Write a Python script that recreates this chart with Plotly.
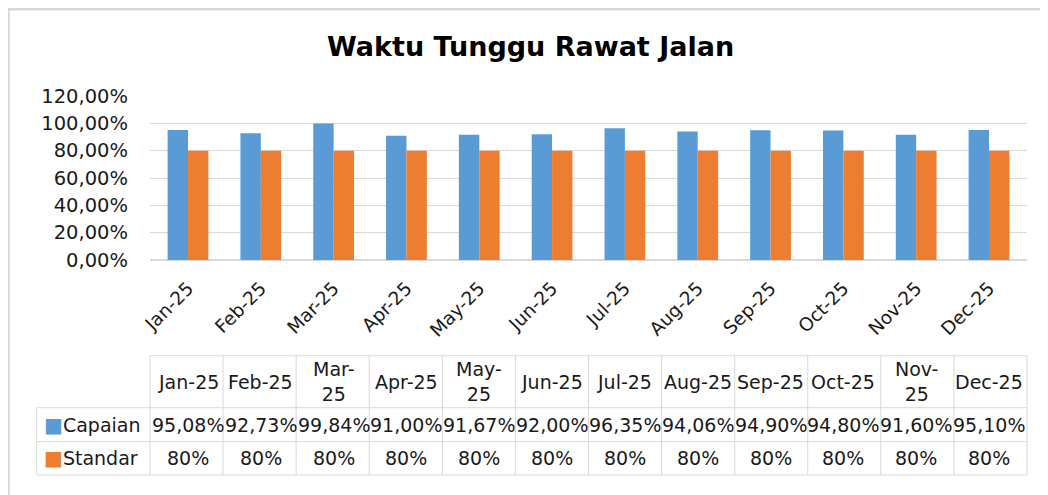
import plotly.graph_objects as go

# ---- data ----
months = ["Jan-25", "Feb-25", "Mar-25", "Apr-25", "May-25", "Jun-25",
          "Jul-25", "Aug-25", "Sep-25", "Oct-25", "Nov-25", "Dec-25"]
header_labels = ["Jan-25", "Feb-25", "Mar-<br>25", "Apr-25", "May-<br>25", "Jun-25",
                 "Jul-25", "Aug-25", "Sep-25", "Oct-25", "Nov-<br>25", "Dec-25"]
capaian = [95.08, 92.73, 99.84, 91.00, 91.67, 92.00, 96.35, 94.06, 94.90, 94.80, 91.60, 95.10]
standar = [80, 80, 80, 80, 80, 80, 80, 80, 80, 80, 80, 80]
series_names = ["Capaian", "Standar"]
title_text = "Waktu Tunggu Rawat Jalan"

BLUE = "#5B9BD5"
ORANGE = "#ED7D31"
GRID = "#D9D9D9"
TXT = "#1a1a1a"
FONT = "DejaVu Sans"

OFF = 8                      # page offset of the figure (body margin)
W, H = 1048 - OFF, 495 - OFF
L, R, T, B = 150, 1027, 96, 260  # plot area in page pixels
PW, PH = R - L, B - T


def px2x(px):
    return (px - L) / PW


def py2y(py):
    return (B - py) / PH


fig = go.Figure()
fig.add_trace(go.Bar(x=months, y=[v / 100 for v in capaian], name=series_names[0],
                     marker=dict(color=BLUE, line=dict(width=0))))
fig.add_trace(go.Bar(x=months, y=[v / 100 for v in standar], name=series_names[1],
                     marker=dict(color=ORANGE, line=dict(width=0))))

shapes = []
annotations = []

# frame (top and left edges of chart area)
shapes.append(dict(type="line", xref="paper", yref="paper", x0=px2x(OFF), x1=px2x(1060),
                   y0=py2y(OFF + 1.2), y1=py2y(OFF + 1.2), line=dict(color=GRID, width=2.5)))
shapes.append(dict(type="line", xref="paper", yref="paper", x0=px2x(OFF + 0.6), x1=px2x(OFF + 0.6),
                   y0=py2y(OFF), y1=py2y(510), line=dict(color=GRID, width=2.5)))

# title
annotations.append(dict(text="<b>" + title_text + "</b>", xref="paper", yref="paper",
                        x=px2x(530), y=py2y(47), xanchor="center", yanchor="middle",
                        showarrow=False, font=dict(family=FONT, size=27, color="#000000")))

# ---- data table ----
n = len(months)
row_y = [355.7, 407.7, 441.7, 475.0]
label_left = 36.7
col_edges = [i / n for i in range(n + 1)]  # category edges in paper units (range -0.5..n-0.5)
lw = dict(color=GRID, width=1)
# horizontal lines
shapes.append(dict(type="line", xref="paper", yref="paper", x0=0, x1=1,
                   y0=py2y(row_y[0]), y1=py2y(row_y[0]), line=lw))
for ry in row_y[1:]:
    shapes.append(dict(type="line", xref="paper", yref="paper", x0=px2x(label_left), x1=1,
                       y0=py2y(ry), y1=py2y(ry), line=lw))
# vertical lines
shapes.append(dict(type="line", xref="paper", yref="paper", x0=px2x(label_left), x1=px2x(label_left),
                   y0=py2y(row_y[1]), y1=py2y(row_y[3]), line=lw))
for cx in col_edges:
    shapes.append(dict(type="line", xref="paper", yref="paper", x0=cx, x1=cx,
                       y0=py2y(row_y[0]), y1=py2y(row_y[3]), line=lw))

hdr_y = py2y((row_y[0] + row_y[1]) / 2)
r1_y = py2y((row_y[1] + row_y[2]) / 2)
r2_y = py2y((row_y[2] + row_y[3]) / 2)
tf = dict(family=FONT, size=19, color=TXT)
for i, m in enumerate(months):
    annotations.append(dict(text=header_labels[i], x=m, xref="x", y=hdr_y, yref="paper",
                            showarrow=False, xanchor="center", yanchor="middle", font=tf))
    annotations.append(dict(text=("%.2f%%" % capaian[i]).replace(".", ","), x=m, xref="x",
                            y=r1_y, yref="paper", showarrow=False, xanchor="center",
                            yanchor="middle", font=tf))
    annotations.append(dict(text="%d%%" % standar[i], x=m, xref="x", y=r2_y, yref="paper",
                            showarrow=False, xanchor="center", yanchor="middle", font=tf))
for name, col, yy in [(series_names[0], BLUE, r1_y), (series_names[1], ORANGE, r2_y)]:
    annotations.append(dict(text="<span style='color:%s;font-size:20px'>■</span>%s" % (col, name),
                            xref="paper", x=px2x(42), y=yy, yref="paper", showarrow=False,
                            xanchor="left", yanchor="middle", font=tf))

fig.update_layout(
    width=W, height=H,
    margin=dict(l=L - OFF, r=W + OFF - R, t=T - OFF, b=H + OFF - B, pad=0),
    paper_bgcolor="white", plot_bgcolor="white",
    separators=",.",
    barmode="group", bargap=0.44, bargroupgap=0,
    showlegend=False,
    font=dict(family=FONT, size=19, color=TXT),
    xaxis=dict(type="category", tickangle=-45, showgrid=False, showline=False,
               ticks="", ticklabelstandoff=13,
               tickfont=dict(family=FONT, size=18.5, color=TXT)),
    yaxis=dict(range=[0, 1.2], dtick=0.2, tickformat=".2%", showgrid=True,
               gridcolor=GRID, gridwidth=1, zeroline=True, zerolinecolor=GRID,
               zerolinewidth=1.5, showline=False, ticks="", ticklabelstandoff=21,
               tickfont=dict(family=FONT, size=19.5, color=TXT)),
    shapes=shapes,
    annotations=annotations,
)

fig.write_html("out.html")
